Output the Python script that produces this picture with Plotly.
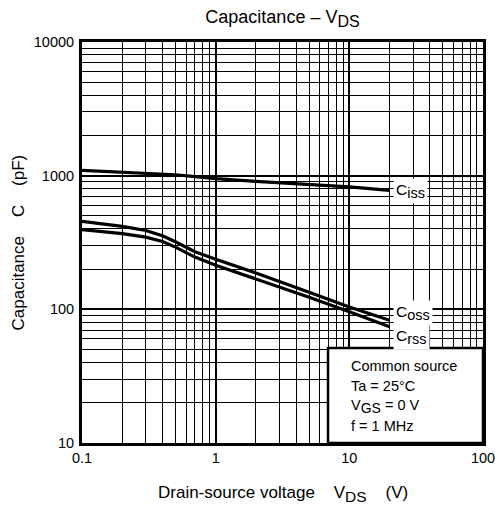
import math
import plotly.graph_objects as go

# Drain-source voltage (V)
vds = [0.1, 0.2, 0.3, 0.4, 0.5, 0.7, 1, 2, 5, 10, 20]

# Capacitances (pF)
ciss = [1097, 1060, 1040, 1025, 1016, 985, 950, 905, 855, 823, 777]
coss = [455, 417, 389, 355, 320, 270, 237, 187, 134, 104, 83]
crss = [395, 368, 347, 322, 292, 246, 214, 169, 123, 96, 74]

FONT = "Liberation Sans, Arial, Helvetica, sans-serif"


def sub(base, s, size):
    # subscript drawn a little larger than Plotly's default 70 %
    return f"{base}<sub><span style='font-size:{size}px'>{s}</span></sub>"


series_names = [sub("C", "iss", 14.5), sub("C", "oss", 14.5),
                sub("C", "rss", 14.5)]
label_levels = [2.888, 1.974, 1.794]  # log10(pF) of the curve labels

x_ticks = [0.1, 1, 10, 100]
x_ticktext = ["0.1", "1", "10", "100"]
y_ticks = [10, 100, 1000, 10000]
y_ticktext = ["10", "100", "1000", "10000"]

conditions = ["Common source", "Ta = 25°C", sub("V", "GS", 14) + " = 0 V",
              "f = 1 MHz"]


def minor_vals(lo_exp, hi_exp):
    vals = []
    for e in range(lo_exp, hi_exp):
        for m in range(2, 10):
            vals.append(m * 10 ** e)
    return vals


fig = go.Figure()
for ys in (ciss, coss, crss):
    fig.add_trace(go.Scatter(x=vds, y=ys, mode="lines",
                             line=dict(color="black", width=3.2),
                             showlegend=False, hoverinfo="skip"))

axis_common = dict(
    type="log", showgrid=True, gridcolor="black", gridwidth=2,
    showline=True, linecolor="black", linewidth=3, mirror=True,
    ticks="", zeroline=False, automargin=False,
    ticklabeloverflow="allow",
    tickfont=dict(family=FONT, size=14.5, color="black"),
)

fig.update_xaxes(
    **axis_common, range=[-1, 2], tickmode="array",
    tickvals=x_ticks, ticktext=x_ticktext,
    minor=dict(tickmode="array", tickvals=minor_vals(-1, 2),
               showgrid=True, gridcolor="black", gridwidth=1, ticks=""),
)
fig.update_yaxes(
    **axis_common, range=[1, 4], tickmode="array",
    tickvals=y_ticks, ticktext=y_ticktext,
    minor=dict(tickmode="array", tickvals=minor_vals(1, 4),
               showgrid=True, gridcolor="black", gridwidth=1, ticks=""),
    ticklabelstandoff=2,
)

# Curve labels at the right-hand end of each curve
for name, lvl in zip(series_names, label_levels):
    fig.add_annotation(x=math.log10(vds[-1]), y=lvl, xref="x", yref="y",
                       text=name, showarrow=False, xanchor="left",
                       yanchor="middle", xshift=3, bgcolor="white",
                       borderpad=2,
                       font=dict(family=FONT, size=15.5, color="black"))

# Measurement conditions box
fig.add_shape(type="rect", xref="paper", yref="paper",
              x0=0.6135, x1=1, y0=0, y1=0.237,
              fillcolor="white", line=dict(color="black", width=2.5),
              layer="above")
for i, txt in enumerate(conditions):
    fig.add_annotation(x=0.666, y=0.192 - i * 0.0499, xref="paper",
                       yref="paper", text=txt, showarrow=False,
                       xanchor="left", yanchor="middle",
                       font=dict(family=FONT, size=14.5, color="black"))

# Axis titles
fig.add_annotation(x=0.5, y=0, xref="paper", yref="paper",
                   text="Drain-source voltage\u00a0\u00a0\u00a0 "
                        + sub("V", "DS", 15.5) + "\u00a0\u00a0\u00a0 (V)",
                   showarrow=False, xanchor="center", yanchor="middle",
                   yshift=-51, font=dict(family=FONT, size=17, color="black"))
fig.add_annotation(x=0, y=0.5, xref="paper", yref="paper",
                   text="Capacitance\u00a0\u00a0\u00a0 C\u00a0\u00a0\u00a0 (pF)",
                   textangle=-90, showarrow=False, xanchor="center",
                   yanchor="middle", xshift=-64,
                   font=dict(family=FONT, size=17, color="black"))

fig.update_layout(
    width=495, height=512,
    margin=dict(l=82, r=12, t=42, b=69),
    paper_bgcolor="white", plot_bgcolor="white",
    title=dict(text="Capacitance – " + sub("V", "DS", 16), x=0.5,
               xref="paper", xanchor="center", y=1 - 17 / 512,
               yref="container", yanchor="middle",
               font=dict(family=FONT, size=18, color="black")),
)

fig.write_html("out.html", config={"displayModeBar": False})
